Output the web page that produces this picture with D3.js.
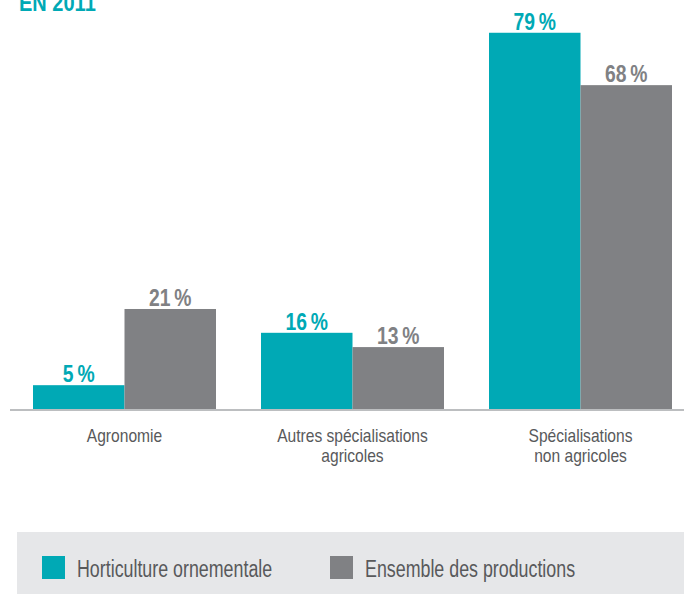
<!DOCTYPE html>
<html>
<head>
<meta charset="utf-8">
<script src="https://cdn.jsdelivr.net/npm/d3@7"></script>
<style>
  html, body { margin: 0; padding: 0; background: #fff; }
  svg { display: block; }
  text { font-family: "Liberation Sans", Arial, sans-serif; }
</style>
</head>
<body>
<svg id="chart" width="684" height="594"></svg>
<script>
var TEAL = "#00a9b5";
var GREY = "#808184";

// data
var categories = ["Agronomie", "Autres spécialisations\nagricoles", "Spécialisations\nnon agricoles"];
var seriesNames = ["Horticulture ornementale", "Ensemble des productions"];
var horticulture = [5, 16, 79];
var ensemble = [21, 13, 68];

var svg = d3.select("#chart");
var baseY = 409;

// the original uses a condensed face, squeeze the glyphs of Liberation Sans
function condense(sel, factor) {
  sel.each(function() {
    var w = this.getComputedTextLength();
    d3.select(this)
      .attr("textLength", w * factor)
      .attr("lengthAdjust", "spacingAndGlyphs");
  });
}

var x = d3.scaleBand()
  .domain(categories)
  .range([33, 672])
  .paddingInner(0.1974)
  .paddingOuter(0);

var sub = d3.scaleBand()
  .domain(seriesNames)
  .range([0, x.bandwidth()]);

var y = d3.scaleLinear()
  .domain([0, 80])
  .range([baseY, 28]);

var color = d3.scaleOrdinal().domain(seriesNames).range([TEAL, GREY]);

// title (cut at the top in the original)
svg.append("text")
  .attr("x", 19)
  .attr("y", 11)
  .attr("fill", TEAL)
  .attr("font-weight", "bold")
  .attr("font-size", 23)
  .text("EN 2011")
  .call(condense, 0.87);

var rows = [];
categories.forEach(function(c, i) {
  rows.push({cat: c, serie: seriesNames[0], value: horticulture[i]});
  rows.push({cat: c, serie: seriesNames[1], value: ensemble[i]});
});

svg.selectAll("rect.bar")
  .data(rows)
  .enter().append("rect")
  .attr("class", "bar")
  .attr("x", function(d) { return x(d.cat) + sub(d.serie); })
  .attr("width", sub.bandwidth())
  .attr("y", function(d) { return y(d.value); })
  .attr("height", function(d) { return baseY - y(d.value); })
  .attr("fill", function(d) { return color(d.serie); });

svg.selectAll("text.val")
  .data(rows)
  .enter().append("text")
  .attr("class", "val")
  .attr("x", function(d) { return x(d.cat) + sub(d.serie) + sub.bandwidth() / 2; })
  .attr("y", function(d) { return y(d.value) - 3; })
  .attr("text-anchor", "middle")
  .attr("font-weight", "bold")
  .attr("font-size", 23)
  .attr("fill", function(d) { return color(d.serie); })
  .text(function(d) { return d.value + "\u2009%"; })
  .call(condense, 0.84);

// baseline
svg.append("line")
  .attr("x1", 10).attr("x2", 684)
  .attr("y1", baseY + 1).attr("y2", baseY + 1)
  .attr("stroke", "#bcbec0")
  .attr("stroke-width", 2);

// category labels, one text per line
var labelLines = [];
categories.forEach(function(c) {
  c.split("\n").forEach(function(line, i) {
    labelLines.push({cat: c, line: line, i: i});
  });
});

svg.selectAll("text.cat")
  .data(labelLines)
  .enter().append("text")
  .attr("class", "cat")
  .attr("x", function(d) { return x(d.cat) + x.bandwidth() / 2; })
  .attr("y", function(d) { return 442 + d.i * 20; })
  .attr("text-anchor", "middle")
  .attr("font-size", 19)
  .attr("fill", "#58595b")
  .text(function(d) { return d.line; })
  .call(condense, 0.82);

// legend
var legend = svg.append("g");
legend.append("rect")
  .attr("x", 17).attr("y", 532)
  .attr("width", 684 - 17).attr("height", 62)
  .attr("fill", "#e6e7e9");

var legendX = [42, 330];
seriesNames.forEach(function(s, i) {
  legend.append("rect")
    .attr("x", legendX[i]).attr("y", 556)
    .attr("width", 23).attr("height", 23)
    .attr("fill", color(s));
  legend.append("text")
    .attr("x", legendX[i] + 35)
    .attr("y", 577)
    .attr("font-size", 23)
    .attr("fill", "#58595b")
    .text(s)
    .call(condense, 0.775);
});
</script>
</body>
</html>
